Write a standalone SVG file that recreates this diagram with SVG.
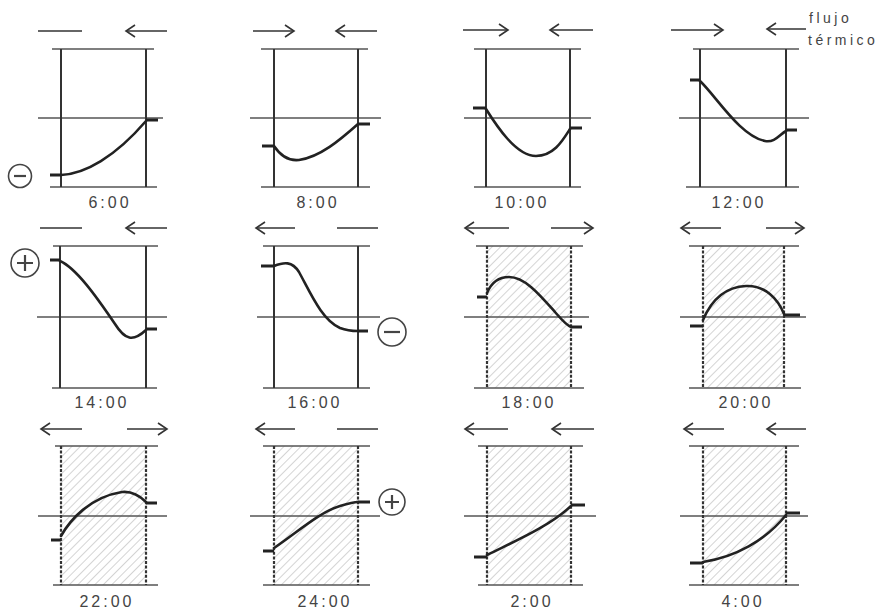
<svg xmlns="http://www.w3.org/2000/svg" width="882" height="609" viewBox="0 0 882 609">
<defs>
<style>
.h{stroke:#555;stroke-width:1.3;fill:none}
.v{stroke:#333;stroke-width:2;fill:none}
.vd{stroke:#333;stroke-width:2.2;fill:none;stroke-dasharray:3 1.6}
.c{stroke:#222;stroke-width:2.6;fill:none;stroke-linecap:round;stroke-linejoin:round}
.t{stroke:#222;stroke-width:3;fill:none}
.a{stroke:#333;stroke-width:1.6;fill:none}
.ah{stroke:#333;stroke-width:1.6;fill:none;marker-end:url(#head)}
.lab{font-family:"Liberation Sans",Arial,sans-serif;font-size:16px;fill:#444;letter-spacing:3px;text-anchor:middle}
.note{font-family:"Liberation Sans",Arial,sans-serif;font-size:14px;fill:#444;letter-spacing:3.5px}
.circ{stroke:#444;stroke-width:1.6;fill:#fff}
.sgn{stroke:#444;stroke-width:2.2;fill:none}
.hatch{fill:url(#hatch)}
</style>
<marker id="head" markerUnits="userSpaceOnUse" markerWidth="14" markerHeight="14" viewBox="-11 -7 14 14" refX="0" refY="0" orient="auto" overflow="visible">
<path d="M-9,-6 L0,0 L-9,6" stroke="#333" stroke-width="1.6" fill="none"/>
</marker>
<pattern id="hatch" patternUnits="userSpaceOnUse" width="6" height="6" patternTransform="rotate(45)">
<line x1="0" y1="0" x2="0" y2="6" stroke="#aaa" stroke-width="1"/>
</pattern>
</defs>
<rect width="882" height="609" fill="#fff"/>

<g id="p0600">
<line class="a" x1="38" y1="31" x2="82" y2="31"/>
<line class="ah" x1="167" y1="31" x2="126" y2="31"/>
<line class="h" x1="52" y1="49" x2="154" y2="49"/>
<line class="h" x1="38" y1="118" x2="163" y2="118"/>
<line class="h" x1="50" y1="187" x2="157" y2="187"/>
<line class="v" x1="61" y1="49" x2="61" y2="187"/>
<line class="v" x1="146" y1="49" x2="146" y2="187"/>
<path class="t" d="M50,175 H61 M146,120 H158"/>
<path class="c" d="M61,175 C85,174 115,157 146,121"/>
<circle class="circ" cx="20" cy="176" r="11.5"/>
<line class="sgn" x1="14" y1="176" x2="26" y2="176"/>
<text class="lab" x="110" y="208">6:00</text>
</g>

<g id="p0800">
<line class="ah" x1="253" y1="31" x2="294" y2="31"/>
<line class="ah" x1="377" y1="31" x2="336" y2="31"/>
<line class="h" x1="261" y1="49" x2="368" y2="49"/>
<line class="h" x1="250" y1="118" x2="381" y2="118"/>
<line class="h" x1="261" y1="187" x2="370" y2="187"/>
<line class="v" x1="274" y1="49" x2="274" y2="187"/>
<line class="v" x1="358" y1="49" x2="358" y2="187"/>
<path class="t" d="M262,146 H274 M358,124 H370"/>
<path class="c" d="M274,146 C282,158 290,161 299,160 C320,157 340,140 358,124"/>
<text class="lab" x="318" y="208">8:00</text>
</g>

<g id="p1000">
<line class="ah" x1="463" y1="30" x2="508" y2="30"/>
<line class="ah" x1="593" y1="30" x2="550" y2="30"/>
<line class="h" x1="474" y1="49" x2="581" y2="49"/>
<line class="h" x1="464" y1="118" x2="591" y2="118"/>
<line class="h" x1="474" y1="187" x2="581" y2="187"/>
<line class="v" x1="486" y1="49" x2="486" y2="187"/>
<line class="v" x1="570" y1="49" x2="570" y2="187"/>
<path class="t" d="M473,108 H486 M570,128 H582"/>
<path class="c" d="M486,109 C496,125 516,156 536,156 C554,156 563,140 570,129"/>
<text class="lab" x="522" y="208">10:00</text>
</g>

<g id="p1200">
<line class="ah" x1="671" y1="30" x2="723" y2="30"/>
<line class="ah" x1="806" y1="29" x2="767" y2="29"/>
<line class="h" x1="693" y1="49" x2="799" y2="49"/>
<line class="h" x1="679" y1="118" x2="809" y2="118"/>
<line class="h" x1="686" y1="187" x2="799" y2="187"/>
<line class="v" x1="700" y1="49" x2="700" y2="187"/>
<line class="v" x1="786" y1="49" x2="786" y2="187"/>
<path class="t" d="M690,80 H700 M786,130 H797"/>
<path class="c" d="M700,81 C716,96 740,136 765,141 C775,143 780,134 786,131"/>
<text class="lab" x="739" y="208">12:00</text>
<text class="note" x="809" y="23">flujo</text>
<text class="note" x="808" y="45">térmico</text>
</g>

<g id="p1400">
<line class="a" x1="40" y1="228" x2="82" y2="228"/>
<line class="ah" x1="167" y1="228" x2="126" y2="228"/>
<line class="h" x1="53" y1="246" x2="158" y2="246"/>
<line class="h" x1="37" y1="317" x2="167" y2="317"/>
<line class="h" x1="52" y1="388" x2="157" y2="388"/>
<line class="v" x1="60" y1="246" x2="60" y2="388"/>
<line class="v" x1="146" y1="246" x2="146" y2="388"/>
<path class="t" d="M50,260 H60 M146,329 H157"/>
<path class="c" d="M60,261 C76,268 96,296 115,324 C125,340 133,342 146,330"/>
<circle class="circ" cx="25" cy="263" r="14"/>
<path class="sgn" d="M17,263 H33 M25,255 V271"/>
<text class="lab" x="102" y="408">14:00</text>
</g>

<g id="p1600">
<line class="ah" x1="295" y1="228" x2="256" y2="228"/>
<line class="a" x1="337" y1="228" x2="378" y2="228"/>
<line class="h" x1="263" y1="246" x2="370" y2="246"/>
<line class="h" x1="257" y1="317" x2="380" y2="317"/>
<line class="h" x1="263" y1="388" x2="370" y2="388"/>
<line class="v" x1="274" y1="246" x2="274" y2="388"/>
<line class="v" x1="358" y1="246" x2="358" y2="388"/>
<path class="t" d="M261,266 H274 M358,331 H368"/>
<path class="c" d="M274,266 C284,262 292,261 299,272 C311,294 322,320 340,328 C348,331 352,331 358,331"/>
<circle class="circ" cx="392" cy="332" r="14"/>
<line class="sgn" x1="384" y1="332" x2="400" y2="332"/>
<text class="lab" x="315" y="408">16:00</text>
</g>

<g id="p1800">
<rect class="hatch" x="487" y="246" width="84" height="142"/>
<line class="ah" x1="509" y1="228" x2="465" y2="228"/>
<line class="ah" x1="551" y1="228" x2="593" y2="228"/>
<line class="h" x1="476" y1="246" x2="583" y2="246"/>
<line class="h" x1="464" y1="317" x2="589" y2="317"/>
<line class="h" x1="474" y1="388" x2="584" y2="388"/>
<line class="vd" x1="487" y1="246" x2="487" y2="388"/>
<line class="vd" x1="571" y1="246" x2="571" y2="388"/>
<path class="t" d="M477,297 H487 M571,327 H582"/>
<path class="c" d="M487,293 C492,281 500,277 509,277 C525,277 540,295 555,312 C562,320 566,325 571,327"/>
<text class="lab" x="529" y="408">18:00</text>
</g>

<g id="p2000">
<rect class="hatch" x="703" y="246" width="81" height="142"/>
<line class="ah" x1="721" y1="228" x2="681" y2="228"/>
<line class="ah" x1="766" y1="228" x2="804" y2="228"/>
<line class="h" x1="689" y1="246" x2="799" y2="246"/>
<line class="h" x1="680" y1="317" x2="806" y2="317"/>
<line class="h" x1="689" y1="388" x2="801" y2="388"/>
<line class="vd" x1="703" y1="246" x2="703" y2="388"/>
<line class="vd" x1="784" y1="246" x2="784" y2="388"/>
<path class="t" d="M690,326 H703 M784,315 H800"/>
<path class="c" d="M703,320 C711,301 725,287 746,286 C765,285 778,299 784,314"/>
<text class="lab" x="746" y="408">20:00</text>
</g>

<g id="p2200">
<rect class="hatch" x="61" y="446" width="85" height="139"/>
<line class="ah" x1="82" y1="429" x2="41" y2="429"/>
<line class="ah" x1="127" y1="429" x2="167" y2="429"/>
<line class="h" x1="55" y1="446" x2="158" y2="446"/>
<line class="h" x1="38" y1="516" x2="167" y2="516"/>
<line class="h" x1="53" y1="585" x2="158" y2="585"/>
<line class="vd" x1="61" y1="446" x2="61" y2="585"/>
<line class="vd" x1="146" y1="446" x2="146" y2="585"/>
<path class="t" d="M51,540 H61 M146,503 H157"/>
<path class="c" d="M61,536 C70,520 90,497 122,492 C132,491 140,496 146,502"/>
<text class="lab" x="107" y="607">22:00</text>
</g>

<g id="p2400">
<rect class="hatch" x="274" y="446" width="84" height="139"/>
<line class="ah" x1="295" y1="429" x2="256" y2="429"/>
<line class="a" x1="337" y1="429" x2="378" y2="429"/>
<line class="h" x1="263" y1="446" x2="370" y2="446"/>
<line class="h" x1="250" y1="516" x2="380" y2="516"/>
<line class="h" x1="263" y1="585" x2="370" y2="585"/>
<line class="vd" x1="274" y1="446" x2="274" y2="585"/>
<line class="vd" x1="358" y1="446" x2="358" y2="585"/>
<path class="t" d="M263,551 H274 M358,502 H370"/>
<path class="c" d="M274,548 C300,530 320,512 340,506 C350,503 355,502 358,502"/>
<circle class="circ" cx="392" cy="502" r="13"/>
<path class="sgn" d="M385,502 H399 M392,495 V509"/>
<text class="lab" x="325" y="607">24:00</text>
</g>

<g id="p0200">
<rect class="hatch" x="487" y="446" width="84" height="139"/>
<line class="ah" x1="508" y1="429" x2="465" y2="429"/>
<line class="ah" x1="594" y1="429" x2="552" y2="429"/>
<line class="h" x1="478" y1="446" x2="583" y2="446"/>
<line class="h" x1="464" y1="516" x2="596" y2="516"/>
<line class="h" x1="478" y1="585" x2="583" y2="585"/>
<line class="vd" x1="487" y1="446" x2="487" y2="585"/>
<line class="vd" x1="571" y1="446" x2="571" y2="585"/>
<path class="t" d="M474,557 H487 M571,505 H585"/>
<path class="c" d="M487,555 C515,541 550,526 571,506"/>
<text class="lab" x="532" y="607">2:00</text>
</g>

<g id="p0400">
<rect class="hatch" x="703" y="446" width="83" height="139"/>
<line class="ah" x1="724" y1="429" x2="684" y2="429"/>
<line class="ah" x1="806" y1="429" x2="767" y2="429"/>
<line class="h" x1="689" y1="446" x2="799" y2="446"/>
<line class="h" x1="680" y1="516" x2="808" y2="516"/>
<line class="h" x1="689" y1="585" x2="799" y2="585"/>
<line class="vd" x1="703" y1="446" x2="703" y2="585"/>
<line class="vd" x1="786" y1="446" x2="786" y2="585"/>
<path class="t" d="M690,563 H703 M786,513 H800"/>
<path class="c" d="M703,562 C735,557 765,541 786,515"/>
<text class="lab" x="743" y="607">4:00</text>
</g>
</svg>
